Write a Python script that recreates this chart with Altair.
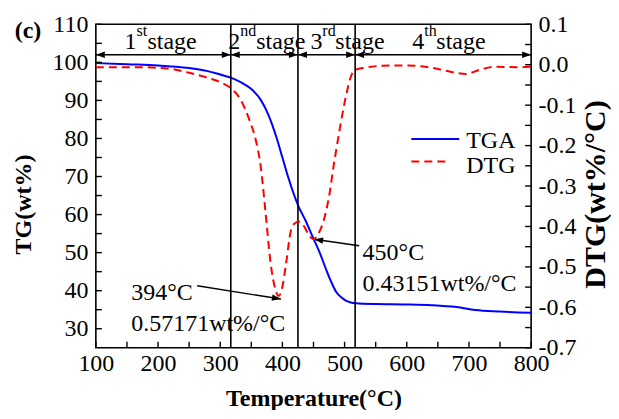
import altair as alt
import pandas as pd

FONT = "Liberation Serif"
W, H = 436, 324

# ---------------- data ----------------
tga_temp = [100, 150, 200, 250, 280, 300, 317, 335, 350, 365, 378, 390, 400, 409, 417, 425, 437,
            448, 460, 470, 478, 486, 495, 502, 510, 518, 550, 600, 640, 680, 710, 750, 800]
tga_val = [99.8, 99.5, 99.2, 98.5, 97.7, 96.8, 96.0, 94.6, 93.0, 90.2, 86.0, 80.5, 75.0, 70.0, 66.0, 62.5,
           58.5, 54.4, 50.0, 45.7, 42.5, 39.8, 38.2, 37.4, 36.9, 36.7, 36.5, 36.4, 36.2, 35.7, 34.9, 34.5, 34.2]

dtg_temp = [100, 170, 223, 250, 277, 304, 317, 333, 347, 357, 365, 373, 381, 389, 394, 400, 406, 414,
            420, 427, 435, 442, 450, 457, 465, 475, 483, 491, 502, 510, 516, 523, 572, 600, 630, 652,
            679, 695, 716, 743, 781, 800]
dtg_val = [-0.006, -0.006, -0.011, -0.020, -0.031, -0.046, -0.058, -0.087, -0.137, -0.185, -0.25, -0.367,
           -0.49, -0.557, -0.572, -0.549, -0.49, -0.408, -0.392, -0.388, -0.40, -0.42, -0.4315, -0.42,
           -0.392, -0.326, -0.244, -0.17, -0.079, -0.030, -0.013, -0.010, -0.002, -0.002, -0.005, -0.011,
           -0.020, -0.023, -0.013, -0.005, -0.006, -0.005]

x_ticks = [100, 200, 300, 400, 500, 600, 700, 800]
x_minor = [100, 150, 200, 250, 300, 350, 400, 450, 500, 550, 600, 650, 700, 750, 800]
tg_ticks = [30, 40, 50, 60, 70, 80, 90, 100, 110]
tg_minor = [30, 35, 40, 45, 50, 55, 60, 65, 70, 75, 80, 85, 90, 95, 100, 105, 110]
dtg_ticks = [0.1, 0.0, -0.1, -0.2, -0.3, -0.4, -0.5, -0.6, -0.7]
dtg_minor = [0.1, 0.05, 0.0, -0.05, -0.1, -0.15, -0.2, -0.25, -0.3, -0.35, -0.4, -0.45, -0.5,
             -0.55, -0.6, -0.65, -0.7]

stage_bounds = [317, 425, 517]
stage_start = [100, 317, 425, 517]
stage_end = [317, 425, 517, 800]
stage_nums = ["1", "2", "3", "4"]
stage_sups = ["st", "nd", "rd", "th"]
stage_label_x = [146, 313, 445, 609]
stage_word_dx = [23, 28, 25, 24]

peak_temps = [394, 450]
peak_rates = ["0.57171wt%/°C", "0.43151wt%/°C"]
peak_text_x = [157, 529]
peak_text_y1 = [37.6, 48.1]
peak_text_y2 = [29.4, 40.0]
arrow_from_x = [263, 523.5]
arrow_from_y = [41.3, 51.8]
arrow_to_x = [397.6, 451]
arrow_to_y = [37.8, 53.5]
arrow_angle = [9.0, 188.5]

series_names = ["TGA", "DTG"]

# ---------------- scales ----------------
xs = alt.Scale(domain=[100, 800], nice=False, zero=False)
ys_tg = alt.Scale(domain=[25, 110], nice=False, zero=False)
ys_dtg = alt.Scale(domain=[-0.7, 0.1], nice=False, zero=False)


def X(f):
    return alt.X(f, type="quantitative", scale=xs)


def Y(f):
    return alt.Y(f, type="quantitative", scale=ys_tg)


RIGHT_HEAD = "M0,0L-1,-0.36L-1,0.36Z"
LEFT_HEAD = "M0,0L1,-0.36L1,0.36Z"

# ---------------- left (TG) group ----------------
tga_df = pd.DataFrame({"T": tga_temp, "TG": tga_val})
tga_line = alt.Chart(tga_df).mark_line(color="#0000FF", strokeWidth=2, interpolate="monotone").encode(
    x=alt.X("T:Q", scale=xs, axis=alt.Axis(
        title="Temperature(°C)", values=x_ticks, format="d", ticks=False, tickSize=0, domain=False,
        grid=False, labelPadding=4, titlePadding=11, labelFlush=False, labelOverlap=False)),
    y=alt.Y("TG:Q", scale=ys_tg, axis=alt.Axis(
        orient="left", title="TG(wt%)", values=tg_ticks, format="d", ticks=False, tickSize=0,
        domain=False, grid=False, labelPadding=8, titlePadding=16, labelFlush=False,
        labelOverlap=False, titleY=180)),
)

left_ticks = alt.Chart(pd.DataFrame({"v": tg_minor})).mark_rule(color="black", strokeWidth=1.4).encode(
    y=Y("v"), x=alt.value(0), x2=alt.value(6))
bottom_ticks = alt.Chart(pd.DataFrame({"v": x_minor})).mark_rule(color="black", strokeWidth=1.4).encode(
    x=X("v"), y=alt.value(H - 6), y2=alt.value(H))

bounds = alt.Chart(pd.DataFrame({"b": stage_bounds})).mark_rule(color="black", strokeWidth=1.6).encode(
    x=X("b"))

stage_df = pd.DataFrame({"s": stage_start, "e": stage_end, "lx": stage_label_x,
                         "num": stage_nums, "sup": stage_sups})
stage_arrows = alt.Chart(stage_df).mark_rule(color="black", strokeWidth=1.4).encode(
    x=X("s"), x2="e:Q", y=alt.YDatum(102, scale=ys_tg))
heads_l = alt.Chart(stage_df).mark_point(shape=LEFT_HEAD, filled=True, size=324, color="black",
                                         opacity=1, strokeWidth=0).encode(
    x=X("s"), y=alt.YDatum(102, scale=ys_tg))
heads_r = alt.Chart(stage_df).mark_point(shape=RIGHT_HEAD, filled=True, size=324, color="black",
                                         opacity=1, strokeWidth=0).encode(
    x=X("e"), y=alt.YDatum(102, scale=ys_tg))
stage_num = alt.Chart(stage_df).mark_text(font=FONT, fontSize=24, align="left", baseline="alphabetic",
                                          color="black").encode(
    x=X("lx"), y=alt.YDatum(103.4, scale=ys_tg), text="num:N")
stage_sup = alt.Chart(stage_df).mark_text(font=FONT, fontSize=16, align="left", baseline="alphabetic",
                                          color="black", dx=12, dy=-13).encode(
    x=X("lx"), y=alt.YDatum(103.4, scale=ys_tg), text="sup:N")
stage_words = []
for i in range(len(stage_nums)):
    stage_words.append(
        alt.Chart(stage_df.iloc[[i]]).mark_text(font=FONT, fontSize=24, align="left", baseline="alphabetic",
                                                color="black", dx=stage_word_dx[i], text="stage").encode(
            x=X("lx"), y=alt.YDatum(103.4, scale=ys_tg)))

peak_df = pd.DataFrame({
    "tx": peak_text_x, "ty1": peak_text_y1, "ty2": peak_text_y2,
    "l1": [f"{t}°C" for t in peak_temps], "l2": peak_rates,
    "fx": arrow_from_x, "fy": arrow_from_y, "ax": arrow_to_x, "ay": arrow_to_y, "ang": arrow_angle,
})
peak_t1 = alt.Chart(peak_df).mark_text(font=FONT, fontSize=24, align="left", baseline="alphabetic",
                                       color="black").encode(x=X("tx"), y=Y("ty1"), text="l1:N")
peak_t2 = alt.Chart(peak_df).mark_text(font=FONT, fontSize=24, align="left", baseline="alphabetic",
                                       color="black").encode(x=X("tx"), y=Y("ty2"), text="l2:N")
peak_line = alt.Chart(peak_df).mark_rule(color="black", strokeWidth=1.4).encode(
    x=X("fx"), y=Y("fy"), x2="ax:Q", y2="ay:Q")
peak_head = alt.Chart(peak_df).mark_point(shape=RIGHT_HEAD, filled=True, size=324, color="black",
                                          opacity=1, strokeWidth=0).encode(
    x=X("ax"), y=Y("ay"), angle=alt.Angle("ang:Q", scale=None))

panel_label = alt.Chart(pd.DataFrame({"t": ["(c)"]})).mark_text(
    font=FONT, fontSize=24, fontWeight="bold", align="center", baseline="alphabetic", color="black").encode(
    x=alt.value(-68), y=alt.value(14), text="t:N")

leg_df = pd.DataFrame({"name": series_names})
leg_tga = alt.Chart(leg_df.iloc[[0]]).mark_rule(color="#0000FF", strokeWidth=2).encode(
    x=alt.value(316), x2=alt.value(364), y=alt.value(115))
leg_dtg = alt.Chart(leg_df.iloc[[1]]).mark_rule(color="#FF0000", strokeWidth=2, strokeDash=[8, 5]).encode(
    x=alt.value(316), x2=alt.value(352), y=alt.value(137.5))
leg_t1 = alt.Chart(leg_df.iloc[[0]]).mark_text(font=FONT, fontSize=24, align="left", baseline="alphabetic",
                                               color="black").encode(
    x=alt.value(371), y=alt.value(124), text="name:N")
leg_t2 = alt.Chart(leg_df.iloc[[1]]).mark_text(font=FONT, fontSize=24, align="left", baseline="alphabetic",
                                               color="black").encode(
    x=alt.value(371), y=alt.value(149), text="name:N")

left_group = alt.layer(
    tga_line, bounds, left_ticks, bottom_ticks, stage_arrows, heads_l, heads_r, stage_num, stage_sup,
    *stage_words, peak_line, peak_head, peak_t1, peak_t2, panel_label, leg_tga, leg_dtg, leg_t1, leg_t2,
)

# ---------------- right (DTG) group ----------------
dtg_df = pd.DataFrame({"T": dtg_temp, "D": dtg_val})
dtg_line = alt.Chart(dtg_df).mark_line(color="#FF0000", strokeWidth=2, strokeDash=[8, 5],
                                       interpolate="monotone").encode(
    x=X("T"),
    y=alt.Y("D:Q", scale=ys_dtg, axis=alt.Axis(
        orient="right", title="DTG(wt%/°C)", values=dtg_ticks, ticks=False, tickSize=0, domain=False,
        grid=False, labelPadding=7, titlePadding=4, titleFontSize=30, titleAngle=270,
        titleBaseline="top", labelFlush=False, labelOverlap=False, titleY=170,
        labelExpr="datum.value < 0 ? '-' + format(-datum.value, '.1f') : format(datum.value, '.1f')")),
)
right_ticks = alt.Chart(pd.DataFrame({"v": dtg_minor})).mark_rule(color="black", strokeWidth=1.4).encode(
    y=alt.Y("v:Q", scale=ys_dtg), x=alt.value(W - 6), x2=alt.value(W))

right_group = alt.layer(dtg_line, right_ticks)

chart = alt.layer(left_group, right_group).resolve_scale(y="independent").properties(
    width=W, height=H,
    autosize=alt.AutoSizeParams(type="none"),
    padding={"left": 88, "top": 16, "right": 80, "bottom": 62},
).configure(font=FONT).configure_view(
    stroke="black", strokeWidth=1.6
).configure_axis(
    labelFont=FONT, titleFont=FONT, labelFontSize=24, titleFontSize=24, labelColor="black",
    titleColor="black", titleFontWeight="bold"
)

chart.save("out.html", embed_options={"renderer": "svg", "actions": False})
